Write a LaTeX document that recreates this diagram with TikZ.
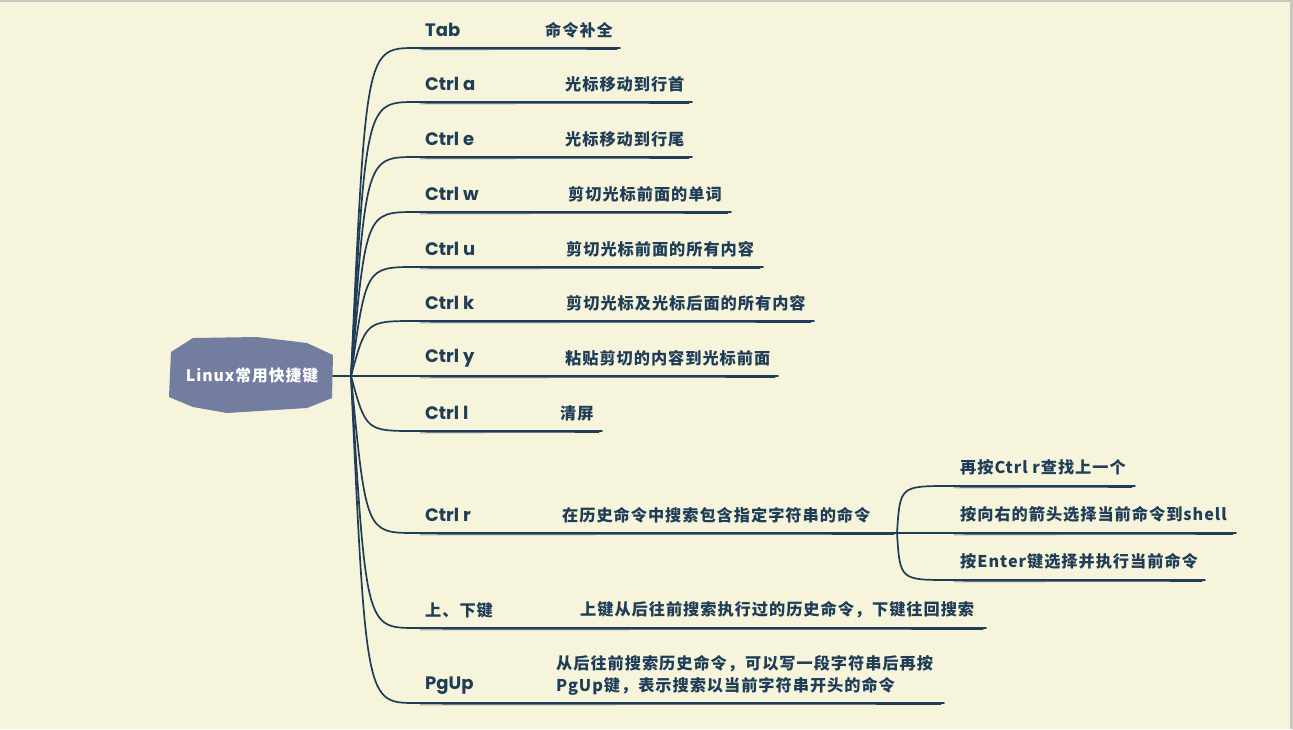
\documentclass[tikz,border=0pt]{standalone}
\usepackage{fontspec}
\setmainfont{Poppins}
\newfontfamily\cjk[LetterSpace=6]{Noto Sans CJK SC}
\usetikzlibrary{calc}
\definecolor{bg}{HTML}{F7F4DC}
\definecolor{ink}{HTML}{1F3D57}
\definecolor{blob}{HTML}{737D9F}
\definecolor{edge}{HTML}{C9C7C0}
\tikzset{
  keylbl/.style={anchor=west, inner sep=0pt, text=ink, font=\fontsize{18}{20}\selectfont\bfseries},
  desclbl/.style={anchor=west, inner sep=0pt, text=ink, font=\cjk\fontsize{16.2}{22}\selectfont\bfseries, align=left},
  conn/.style={draw=ink, line width=1.7pt, line cap=round},
  sketch/.style={draw=ink, line width=0.6pt, line cap=round},
}
\begin{document}
\begin{tikzpicture}[x=1pt,y=-1pt]
\fill[bg] (0,0) rectangle (1293,729);
\useasboundingbox (0,0) rectangle (1293,729);
\fill[edge] (0,0) rectangle (1293,2);
\fill[edge] (1290,0) rectangle (1293,729);
% central node
\fill[blob] (171,352) -- (193,338) -- (257,337) -- (307,343) -- (333,355) -- (332,398) -- (307,408) -- (227,413) -- (193,407) -- (169,397) -- cycle;
\node[text=white, font=\cjk\fontsize{15.8}{18}\selectfont\bfseries, inner sep=0pt] (root) at (252,376) {Linux常用快捷键};
\coordinate (hub) at (351,376);
\draw[conn] (333,376) -- (hub);
% branches
\foreach \y/\ex/\k/\dx/\d/\n in {
  48/620/Tab/545/命令补全/b1,
  102/692/Ctrl a/565/光标移动到行首/b2,
  157/692/Ctrl e/565/光标移动到行尾/b3,
  212/731/Ctrl w/568/剪切光标前面的单词/b4,
  267/763/Ctrl u/566/剪切光标前面的所有内容/b5,
  321/814/Ctrl k/566/剪切光标及光标后面的所有内容/b6,
  376/778/Ctrl y/565/粘贴剪切的内容到光标前面/b7,
  431/602/Ctrl l/560/清屏/b8,
  533/897/Ctrl r/562/在历史命令中搜索包含指定字符串的命令/b9}{
  \coordinate (\n s) at (416,\y);
  \coordinate (\n e) at (\ex,\y);
  \node[keylbl] (\n k) at (425,\y-18) {\k};
  \node[desclbl] (\n d) at (\dx,\y-18) {\d};
  \draw[conn] (hub) .. controls (366,\y) .. (\n s) -- (\n e);
  \draw[sketch] ($(\n s)+(4,1.8)$) -- ($(\n e)+(-3,1.5)$);
}
% 上下键
\coordinate (b10s) at (416,628);
\coordinate (b10e) at (986,628);
\node[keylbl, font=\cjk\fontsize{16.2}{18}\selectfont\bfseries] (b10k) at (425,610) {上、下键};
\node[desclbl] (b10d) at (580,610) {上键从后往前搜索执行过的历史命令，下键往回搜索};
\draw[conn] (hub) .. controls (366,628) .. (b10s) -- (b10e);
\draw[sketch] ($(b10s)+(4,1.8)$) -- ($(b10e)+(-3,1.5)$);
% PgUp
\coordinate (b11s) at (416,703);
\coordinate (b11e) at (944,703);
\node[keylbl] (b11k) at (425,686) {PgUp};
\node[desclbl] (b11d) at (556,675) {从后往前搜索历史命令，可以写一段字符串后再按\\PgUp键，表示搜索以当前字符串开头的命令};
\draw[conn] (hub) .. controls (366,703) .. (b11s) -- (b11e);
\draw[sketch] ($(b11s)+(4,1.8)$) -- ($(b11e)+(-3,1.5)$);
% Ctrl r children
\coordinate (hub2) at (b9e);
\foreach \y/\ex/\d/\n in {
  486/1135/再按Ctrl r查找上一个/c1,
  533/1236/按向右的箭头选择当前命令到shell/c2,
  580/1205/按Enter键选择并执行当前命令/c3}{
  \coordinate (\n s) at (950,\y);
  \coordinate (\n e) at (\ex,\y);
  \node[desclbl] (\n d) at (960,\y-19) {\d};
  \draw[conn] (hub2) .. controls (900,\y) .. (\n s) -- (\n e);
  \draw[sketch] ($(\n s)+(4,1.8)$) -- ($(\n e)+(-3,1.5)$);
}
\end{tikzpicture}
\end{document}
